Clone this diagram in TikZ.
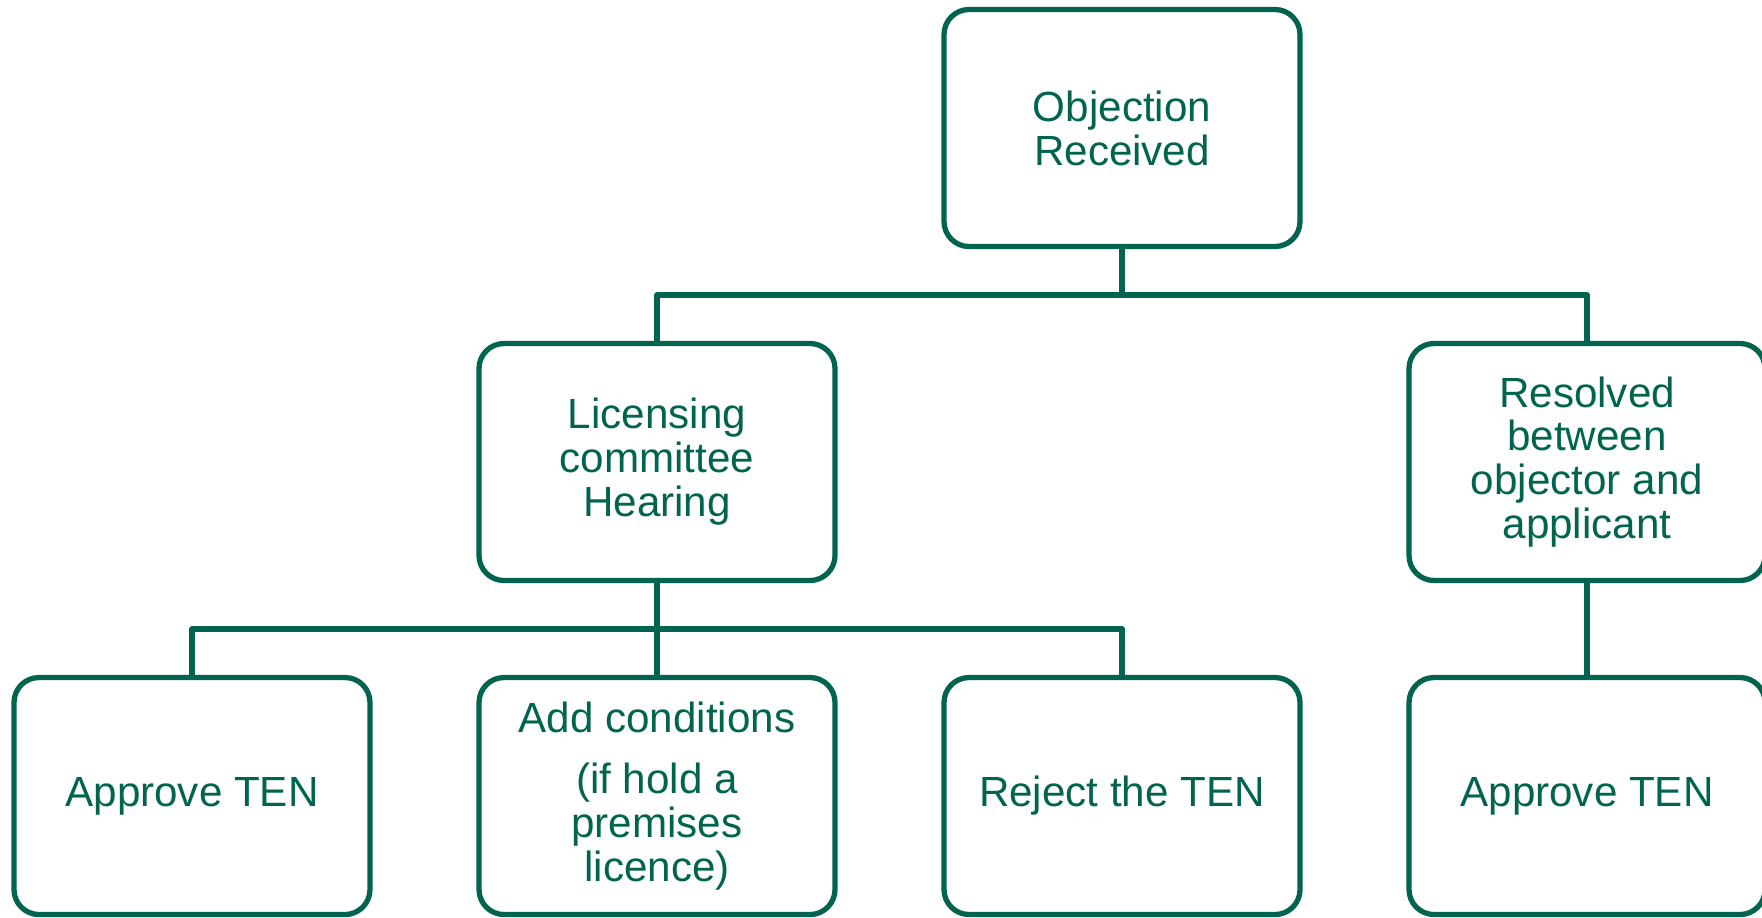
\documentclass[tikz,border=0pt]{standalone}
\usepackage{fontspec}
\setmainfont{Liberation Sans}
\definecolor{tengreen}{RGB}{0,100,78}
\begin{document}
\begin{tikzpicture}[line join=round, line cap=round,
	box/.style={draw=tengreen, line width=1.5pt, rounded corners=0.25cm, minimum width=3.56cm, minimum height=2.37cm, align=center, text=tengreen, font=\fontsize{12}{12.5}\selectfont},
	link/.style={draw=tengreen, line width=1.5pt, line cap=rect}]
			\useasboundingbox (0,0) rectangle (17.62,-9.17);
			\clip (0,0) rectangle (17.62,-9.17);
			% boxes
			\node[box] (obj) at (11.22,-1.28) {Objection\\Received};
			\node[box] (hear) at (6.57,-4.62) {Licensing\\committee\\Hearing};
			\node[box] (res) at (15.87,-4.62) {Resolved\\between\\objector and\\applicant};
			\node[box] (appr) at (1.92,-7.96) {Approve TEN};
			\node[box] (cond) at (6.57,-7.96) {Add conditions\\[5pt](if hold a\\premises\\licence)};
			\node[box] (rej) at (11.22,-7.96) {Reject the TEN};
			\node[box] (appr2) at (15.87,-7.96) {Approve TEN};
			% connectors
			\coordinate (busA) at (11.22,-2.95);
			\coordinate (busB) at (6.57,-6.29);
			\draw[link] (obj.south) -- (busA);
			\draw[link] (hear.north) |- (busA) -| (res.north);
			\draw[link] (hear.south) -- (cond.north);
			\draw[link] (appr.north) |- (busB) -| (rej.north);
			\draw[link] (res.south) -- (appr2.north);
		\end{tikzpicture}
\end{document}
